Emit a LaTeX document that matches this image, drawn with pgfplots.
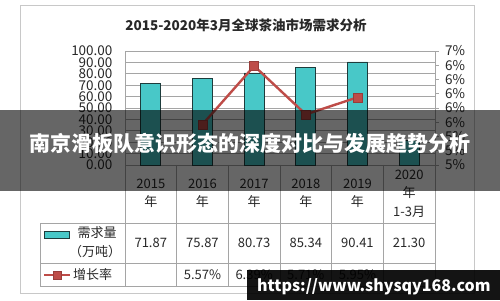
\documentclass[border=0pt]{standalone}
\usepackage{pgfplots}
\pgfplotsset{compat=1.18}
\usepackage{fontspec}
\setmainfont{Noto Sans CJK SC}
\definecolor{barfill}{RGB}{72,200,200}
\definecolor{barline}{RGB}{30,60,60}
\definecolor{rateline}{RGB}{190,76,72}
\definecolor{gridgray}{RGB}{165,165,165}
\definecolor{framegray}{RGB}{200,200,200}
\definecolor{txt}{RGB}{40,40,40}
\newcommand{\tabfont}{\fontsize{13}{15}\selectfont}

\begin{document}
\begin{tikzpicture}
\path[use as bounding box, fill=white] (0,0) rectangle (500pt,300pt);

% outer chart frame and title
\begin{scope}[x=1pt,y=1pt]
  \draw[framegray, line width=0.8pt] (20,7) rectangle (474,295);
  \node[font=\fontsize{13.5}{15}\selectfont\bfseries, text=txt] at (246,275)
    {2015-2020年3月全球茶油市场需求分析};
\end{scope}

% demand (bars, left axis)
\begin{axis}[
  at={(125pt,135pt)}, anchor=south west,
  scale only axis, width=310pt, height=114pt,
  xmin=-0.5, xmax=5.5, ymin=0, ymax=100,
  xtick=\empty,
  ytick={0,10,20,30,40,50,60,70,80,90,100},
  yticklabels={0.00,10.00,20.00,30.00,40.00,50.00,60.00,70.00,80.00,90.00,100.00},
  major tick length=0pt,
  ymajorgrids, grid style={gridgray, line width=0.8pt},
  axis line style={gridgray, line width=0.8pt},
  yticklabel style={font=\fontsize{13.5}{13.5}\selectfont, text=txt, xshift=-9pt},
]
\addplot[ybar, bar width=20pt, fill=barfill, draw=barline, line width=0.8pt]
  coordinates {(0,71.87) (1,75.87) (2,80.73) (3,85.34) (4,90.41) (5,21.30)};
\end{axis}

% growth rate (line, right axis)
\begin{axis}[
  at={(125pt,135pt)}, anchor=south west,
  scale only axis, width=310pt, height=114pt,
  xmin=-0.5, xmax=5.5, ymin=5.0, ymax=6.6,
  axis x line=none, axis y line*=right,
  ytick={5.0,5.2,5.4,5.6,5.8,6.0,6.2,6.4,6.6},
  yticklabels={5\%,5\%,5\%,6\%,6\%,6\%,6\%,6\%,7\%},
  tick align=outside, major tick length=3.5pt,
  tick style={gridgray, line width=0.8pt},
  axis line style={gridgray, line width=0.8pt},
  yticklabel style={font=\fontsize{13.5}{13.5}\selectfont, text=txt, xshift=3pt},
]
\addplot[rateline, line width=2.4pt, mark=square*, mark size=4.5pt,
  mark options={fill=rateline, draw=rateline!80!black, line width=0.6pt}]
  coordinates {(1,5.57) (2,6.39) (3,5.71) (4,5.95)};
\end{axis}

% data table under the plot
\begin{scope}[x=1pt,y=1pt]
  \foreach \k in {0,...,6}
    \draw[gridgray, line width=0.8pt] ({125+\k*51.667},135) -- ({125+\k*51.667},14);
  \draw[gridgray, line width=0.8pt] (40,77) -- (435,77);
  \draw[gridgray, line width=0.8pt] (40,37) -- (435,37);
  \draw[gridgray, line width=0.8pt] (40,14) -- (435,14);
  \draw[gridgray, line width=0.8pt] (40,77) -- (40,14);
  % header row
  \foreach \yr [count=\i from 0] in {2015,2016,2017,2018,2019} {
    \node[font=\tabfont, text=txt] at ({150.8+\i*51.667},116) {\yr};
    \node[font=\tabfont, text=txt] at ({150.8+\i*51.667},98) {年};
  }
  \node[font=\tabfont, text=txt] at (409.2,125) {2020};
  \node[font=\tabfont, text=txt] at (409.2,107) {年};
  \node[font=\tabfont, text=txt] at (409.2,88) {1-3月};
  % demand row
  \fill[barfill, draw=barline, line width=0.9pt] (44,62) rectangle (69,69);
  \node[font=\tabfont, text=txt] at (97,67) {需求量};
  \node[font=\tabfont, text=txt] at (95,48) {（万吨）};
  \foreach \v [count=\i from 0] in {71.87,75.87,80.73,85.34,90.41,21.30}
    \node[font=\tabfont, text=txt] at ({150.8+\i*51.667},57) {\v};
  % growth row
  \draw[rateline, line width=2.4pt] (44,25) -- (70,25);
  \fill[rateline, draw=rateline!80!black, line width=0.6pt] (53,21) rectangle (61,29);
  \node[font=\tabfont, text=txt] at (92.5,25) {增长率};
  \foreach \v [count=\i from 1] in {5.57,6.39,5.71,5.95}
    \node[font=\tabfont, text=txt] at ({150.8+\i*51.667},25) {\v\%};
\end{scope}

% overlay banner and site mark
\begin{scope}[x=1pt,y=1pt]
  \fill[black, opacity=0.6] (0,109) rectangle (500,190);
  \node[font=\fontsize{21}{23}\selectfont\bfseries, text=white] at (250,157)
    {南京滑板队意识形态的深度对比与发展趋势分析};
  \fill[black, opacity=0.92] (246.7,0) rectangle (500,30);
  \node[font=\fontsize{16}{18}\selectfont\bfseries, text=white, anchor=west, inner sep=0pt]
    at (257,13) {https://www.shysqy168.com};
\end{scope}
\end{tikzpicture}
\end{document}
